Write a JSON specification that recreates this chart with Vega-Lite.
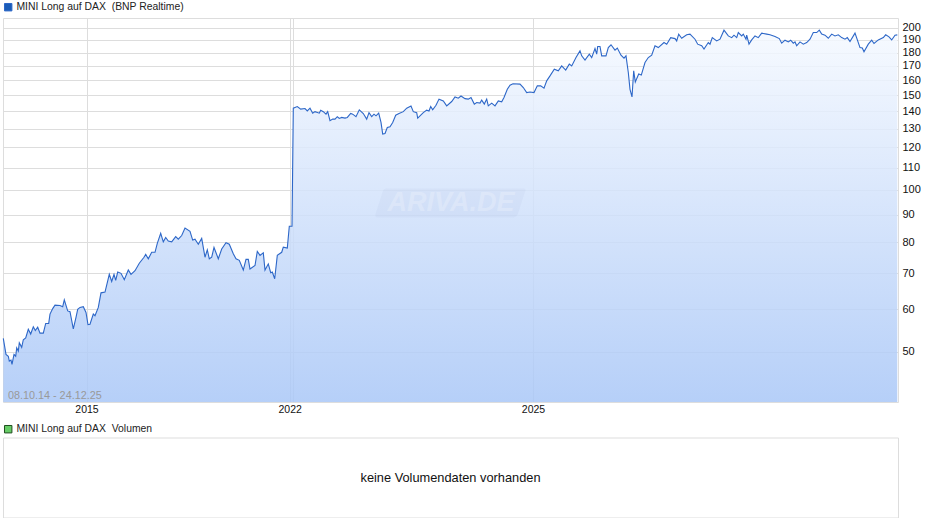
{
  "$schema": "https://vega.github.io/schema/vega-lite/v6.json",
  "background": "white",
  "padding": {"left": 0, "top": 1, "right": 0, "bottom": 0},
  "spacing": 8.5,
  "datasets": {
    "kurs": [
      {"t":3.3,"price":53},{"t":6,"price":49.5},{"t":8.3,"price":49.1},{"t":9.3,"price":48.1},{"t":11,"price":48.3},{"t":12,"price":47.4},{"t":14,"price":49.5},{"t":15.7,"price":49.1},{"t":16.7,"price":50.9},{"t":18.3,"price":50.2},
      {"t":19.3,"price":52},{"t":21.7,"price":51},{"t":23.3,"price":52.7},{"t":25.7,"price":53.1},{"t":28.3,"price":55.1},{"t":30.7,"price":54},{"t":33.3,"price":55.7},{"t":35.3,"price":54.8},{"t":37.7,"price":55.6},{"t":40,"price":54.2},
      {"t":43.3,"price":54.2},{"t":45.7,"price":56.5},{"t":48.7,"price":56.5},{"t":50,"price":58.8},{"t":52.7,"price":60.2},{"t":55,"price":61.1},{"t":60,"price":61},{"t":62.7,"price":60.7},{"t":64.3,"price":62.5},{"t":67.7,"price":59.6},
      {"t":70,"price":59.4},{"t":73.3,"price":55.2},{"t":76,"price":58},{"t":77.7,"price":60},{"t":80,"price":60.5},{"t":83.3,"price":60.7},{"t":86,"price":59.2},{"t":88,"price":56.2},{"t":90,"price":56.3},{"t":93.3,"price":58.8},
      {"t":95,"price":58.4},{"t":98.3,"price":60.5},{"t":101,"price":64.4},{"t":105,"price":64.6},{"t":109.3,"price":69.7},{"t":111.7,"price":67.6},{"t":114,"price":69.7},{"t":115.7,"price":67.9},{"t":117.7,"price":70.4},{"t":121,"price":70},
      {"t":124.3,"price":68.1},{"t":128.3,"price":71},{"t":131,"price":69.7},{"t":135,"price":70.8},{"t":139.3,"price":73.1},{"t":144,"price":75},{"t":145.7,"price":75.9},{"t":148.3,"price":74.5},{"t":151.7,"price":76.6},{"t":155,"price":76.6},
      {"t":157.3,"price":79.6},{"t":160.7,"price":83.1},{"t":163.3,"price":80.1},{"t":165.7,"price":81.6},{"t":168.3,"price":80.4},{"t":171.7,"price":80.1},{"t":175.7,"price":81.9},{"t":178.3,"price":81},{"t":181.7,"price":82.3},{"t":185,"price":85},
      {"t":190,"price":83.8},{"t":192.7,"price":80.7},{"t":195,"price":81},{"t":198.3,"price":79.3},{"t":201.7,"price":81.3},{"t":205,"price":75},{"t":207.3,"price":77.4},{"t":209.3,"price":74.5},{"t":211.7,"price":75},{"t":214,"price":78.2},
      {"t":218.3,"price":74.5},{"t":221.7,"price":77.7},{"t":226,"price":79.8},{"t":229.3,"price":79.3},{"t":233.3,"price":76.1},{"t":236,"price":74.5},{"t":239.3,"price":74},{"t":243.3,"price":71},{"t":246,"price":74.3},{"t":248.3,"price":74.3},
      {"t":250,"price":71.3},{"t":255,"price":72.4},{"t":257.3,"price":76.9},{"t":260,"price":75.6},{"t":263.3,"price":76.4},{"t":265,"price":71},{"t":268.3,"price":72.9},{"t":270.7,"price":70.2},{"t":272.3,"price":70.4},{"t":274.7,"price":68.4},
      {"t":277.3,"price":75.6},{"t":281.7,"price":76.6},{"t":283.3,"price":78.3},{"t":287.3,"price":78},{"t":289.3,"price":85.6},{"t":292,"price":85.6},{"t":293.3,"price":141.9},{"t":297.3,"price":142.9},{"t":300.7,"price":141.3},{"t":305,"price":141.7},
      {"t":307.3,"price":140.2},{"t":310,"price":141.9},{"t":312.7,"price":138.9},{"t":315,"price":139.8},{"t":319.3,"price":138.9},{"t":320.7,"price":140.7},{"t":323.3,"price":139.8},{"t":326,"price":138.3},{"t":327.7,"price":139.8},{"t":330,"price":134.5},
      {"t":332.7,"price":135.4},{"t":335,"price":135.4},{"t":337.3,"price":136.8},{"t":339.3,"price":135.8},{"t":341.7,"price":136.4},{"t":345,"price":136},{"t":347.3,"price":136.4},{"t":350.7,"price":138.7},{"t":352.7,"price":138.3},{"t":356,"price":136.8},
      {"t":359.3,"price":140.9},{"t":363.3,"price":138.7},{"t":366.7,"price":135.4},{"t":369,"price":139.2},{"t":371.7,"price":136.9},{"t":374,"price":138.3},{"t":376,"price":137.3},{"t":378.7,"price":138.9},{"t":381,"price":133.5},{"t":382.7,"price":127},
      {"t":385,"price":127.3},{"t":387.3,"price":130.6},{"t":390,"price":131},{"t":392.7,"price":133.5},{"t":395.7,"price":137.7},{"t":399,"price":138.7},{"t":403.3,"price":139.8},{"t":406.7,"price":141.9},{"t":411,"price":143.2},{"t":413.3,"price":139.8},
      {"t":416.7,"price":139.2},{"t":417.7,"price":136},{"t":423.3,"price":139.2},{"t":426.7,"price":140.7},{"t":429,"price":140.2},{"t":430.7,"price":142.9},{"t":432.7,"price":140.9},{"t":436,"price":143.7},{"t":439,"price":147.5},{"t":443.3,"price":146.4},
      {"t":446.7,"price":143.3},{"t":451.7,"price":146},{"t":455,"price":148.9},{"t":458.3,"price":148.1},{"t":461,"price":149.5},{"t":465,"price":147.8},{"t":468.3,"price":147.5},{"t":471,"price":148.5},{"t":474.3,"price":144.4},{"t":476.7,"price":145.4},
      {"t":480,"price":145},{"t":481.7,"price":146.9},{"t":484.3,"price":144.4},{"t":486.7,"price":147.5},{"t":488.3,"price":143.3},{"t":491.7,"price":145},{"t":495,"price":143.3},{"t":498.3,"price":146.4},{"t":501.7,"price":145.8},{"t":504,"price":148.5},
      {"t":507.3,"price":153.9},{"t":510,"price":156.5},{"t":513,"price":157.5},{"t":520,"price":157.3},{"t":523.3,"price":155},{"t":526.7,"price":151.7},{"t":530,"price":152.1},{"t":534,"price":151.7},{"t":537.3,"price":156.1},{"t":540.7,"price":156.1},
      {"t":544,"price":154.6},{"t":546.7,"price":159.5},{"t":550,"price":162.9},{"t":554.3,"price":167.7},{"t":558.3,"price":166.5},{"t":561.7,"price":170},{"t":565.7,"price":167},{"t":569.3,"price":171.3},{"t":571.7,"price":170},{"t":576,"price":176.2},
      {"t":580,"price":181.3},{"t":581.7,"price":177.5},{"t":585,"price":174.3},{"t":589.3,"price":178.8},{"t":591.7,"price":176.2},{"t":595,"price":183.1},{"t":596.7,"price":178.8},{"t":597.7,"price":184.7},{"t":600,"price":184.7},{"t":601.7,"price":177.5},
      {"t":606,"price":177.5},{"t":608.3,"price":183.9},{"t":611,"price":186.1},{"t":615,"price":181.9},{"t":617.3,"price":183.5},{"t":621,"price":178},{"t":624,"price":175.8},{"t":626,"price":177.5},{"t":628.3,"price":165.3},{"t":630,"price":153.8},
      {"t":632,"price":148.9},{"t":633.7,"price":166.5},{"t":635.3,"price":158.7},{"t":638.7,"price":164.2},{"t":641.3,"price":163.5},{"t":645,"price":172.5},{"t":648.3,"price":176.2},{"t":651.7,"price":178},{"t":655,"price":185.3},{"t":658.3,"price":183.9},
      {"t":664,"price":187.9},{"t":666.7,"price":186.6},{"t":670.7,"price":191.9},{"t":675,"price":191.1},{"t":676.7,"price":189.2},{"t":678.7,"price":194.8},{"t":681.7,"price":191.4},{"t":686.7,"price":194.2},{"t":690,"price":194.8},{"t":695,"price":190.6},
      {"t":697.7,"price":186.6},{"t":701.7,"price":185.3},{"t":704,"price":182.7},{"t":708.3,"price":187.9},{"t":710,"price":186.6},{"t":712.3,"price":191.9},{"t":716.7,"price":189.2},{"t":720,"price":190.6},{"t":724,"price":198.1},{"t":728.3,"price":193.3},
      {"t":731.7,"price":191.9},{"t":734,"price":193.9},{"t":736.7,"price":191.9},{"t":738.3,"price":196.1},{"t":741.7,"price":193.3},{"t":743.3,"price":194.8},{"t":746,"price":190.6},{"t":746.7,"price":193.9},{"t":749,"price":186.6},{"t":751.7,"price":190},
      {"t":755,"price":193.3},{"t":758.3,"price":191.9},{"t":761.7,"price":195.6},{"t":766.7,"price":194.8},{"t":770,"price":194.2},{"t":775,"price":192.8},{"t":779.3,"price":191.1},{"t":781.7,"price":187.4},{"t":785,"price":189.8},{"t":788.3,"price":188.4},
      {"t":790.7,"price":189.8},{"t":793.3,"price":187.4},{"t":795,"price":188.4},{"t":796.7,"price":185.3},{"t":800,"price":188.4},{"t":803.3,"price":186.6},{"t":806.7,"price":187.9},{"t":810,"price":190.6},{"t":813.3,"price":196.1},{"t":816.7,"price":196.1},
      {"t":819.3,"price":198.1},{"t":821.7,"price":194.8},{"t":825,"price":193.9},{"t":828.3,"price":191.4},{"t":831.7,"price":194.8},{"t":835,"price":193.3},{"t":838.3,"price":194.2},{"t":841.7,"price":191.9},{"t":845,"price":190.6},{"t":847.3,"price":191.9},
      {"t":850,"price":188.7},{"t":855,"price":195.6},{"t":860,"price":183.9},{"t":862.3,"price":183.5},{"t":864,"price":180.6},{"t":868.3,"price":186.6},{"t":871.7,"price":189.8},{"t":874,"price":187.1},{"t":878.3,"price":190},{"t":883.3,"price":191.9},
      {"t":885.7,"price":194.2},{"t":889,"price":192.5},{"t":891.7,"price":190},{"t":895,"price":193.9},{"t":897.3,"price":194.2}
    ]
  },
  "vconcat": [
    {
      "width": 895,
      "height": 384,
      "view": {"stroke": "#dddddd"},
      "data": {"name": "kurs"},
      "encoding": {
        "x": {
          "field": "t",
          "type": "quantitative",
          "scale": {"domain": [3, 898], "nice": false, "zero": false},
          "axis": {
            "title": null,
            "values": [86.5, 289.7, 293.3, 533],
            "labelExpr": "datum.value == 86.5 ? '2015' : datum.value == 289.7 ? '2022' : datum.value == 533 ? '2025' : ''",
            "grid": true,
            "gridColor": "#dddddd",
            "domain": false,
            "ticks": false,
            "labelFont": "Liberation Sans",
            "labelFontSize": 10.5,
            "labelColor": "#111111",
            "labelPadding": 2,
            "labelFlush": false
          }
        },
        "y": {
          "field": "price",
          "type": "quantitative",
          "scale": {"type": "log", "domain": [40.37, 208.7], "nice": false},
          "axis": {
            "title": null,
            "orient": "right",
            "values": [50, 60, 70, 80, 90, 100, 110, 120, 130, 140, 150, 160, 170, 180, 190, 200],
            "format": "d",
            "grid": true,
            "gridColor": "#dddddd",
            "domain": false,
            "ticks": false,
            "labelFont": "Liberation Sans",
            "labelFontSize": 11,
            "labelColor": "#111111",
            "labelPadding": 4
          }
        }
      },
      "layer": [
        {
          "mark": {
            "type": "area",
            "fill": {
              "gradient": "linear",
              "x1": 0, "y1": 0, "x2": 0, "y2": 1,
              "stops": [
                {"offset": 0, "color": "rgba(245,249,255,0.85)"},
                {"offset": 1, "color": "rgba(169,199,247,0.85)"}
              ]
            }
          },
          "encoding": {"y2": {"datum": 40.37}}
        },
        {
          "mark": {"type": "line", "strokeWidth": 1.1, "interpolate": "linear"},
          "encoding": {
            "color": {
              "datum": "MINI Long auf DAX \u00a0(BNP Realtime)",
              "type": "nominal",
              "scale": {"range": ["#2d67c8"]},
              "legend": {
                "title": null,
                "orient": "none",
                "legendX": 0,
                "legendY": -16,
                "symbolType": "square",
                "symbolSize": 55,
                "labelFont": "Liberation Sans",
                "labelFontSize": 10.4,
                "labelLimit": 400,
                "labelColor": "#222222",
                "labelOffset": 3,
                "encode": {"symbols": {"update": {"fill": {"value": "#1a5cb8"}, "stroke": {"value": "#1c2f55"}, "strokeWidth": {"value": 1}}}}
              }
            }
          }
        },
        {
          "data": {"values": [{"t": 451, "price": 94.6}]},
          "mark": {
            "type": "point",
            "filled": true,
            "shape": "M-0.94 -0.196 L0.98 -0.196 Q1.02 -0.196 1 -0.15 L0.9 0.16 Q0.88 0.196 0.84 0.196 L-1 0.196 Q-1.03 0.196 -1.02 0.15 L-0.92 -0.16 Q-0.91 -0.196 -0.87 -0.196 Z",
            "size": 21904,
            "color": "#6f8fc0",
            "opacity": 0.06
          }
        },
        {
          "data": {"values": [{"t": 451, "price": 94.6, "label": "ARIVA.DE"}]},
          "mark": {
            "type": "text",
            "font": "Liberation Sans",
            "fontStyle": "italic",
            "fontWeight": "bold",
            "fontSize": 27,
            "color": "#ffffff",
            "opacity": 0.22
          },
          "encoding": {"text": {"field": "label"}}
        },
        {
          "data": {"values": [{"t": 8, "price": 41.4, "label": "08.10.14 - 24.12.25"}]},
          "mark": {
            "type": "text",
            "align": "left",
            "font": "Liberation Sans",
            "fontSize": 10.8,
            "color": "#999999"
          },
          "encoding": {"text": {"field": "label"}}
        }
      ]
    },
    {
      "width": 895,
      "height": 80,
      "view": {"stroke": "#dddddd"},
      "layer": [
        {
          "data": {"values": [{"msg": "keine Volumendaten vorhanden"}]},
          "mark": {"type": "text", "font": "Liberation Sans", "fontSize": 12.8, "color": "#111111"},
          "encoding": {"text": {"field": "msg"}}
        },
        {
          "data": {"values": []},
          "mark": {"type": "square", "opacity": 0},
          "encoding": {
            "color": {
              "datum": "MINI Long auf DAX \u00a0Volumen",
              "type": "nominal",
              "scale": {"range": ["#66cc66"]},
              "legend": {
                "title": null,
                "orient": "none",
                "legendX": 0,
                "legendY": -13.5,
                "symbolType": "square",
                "symbolSize": 55,
                "labelFont": "Liberation Sans",
                "labelFontSize": 10.4,
                "labelLimit": 400,
                "labelColor": "#222222",
                "labelOffset": 3,
                "encode": {"symbols": {"update": {"fill": {"value": "#66cc66"}, "opacity": {"value": 1}, "stroke": {"value": "#1f4d1f"}, "strokeWidth": {"value": 1}}}}
              }
            }
          }
        }
      ]
    }
  ],
  "resolve": {"scale": {"color": "independent"}, "legend": {"color": "independent"}},
  "config": {
    "view": {"stroke": "#dddddd"}
  }
}
